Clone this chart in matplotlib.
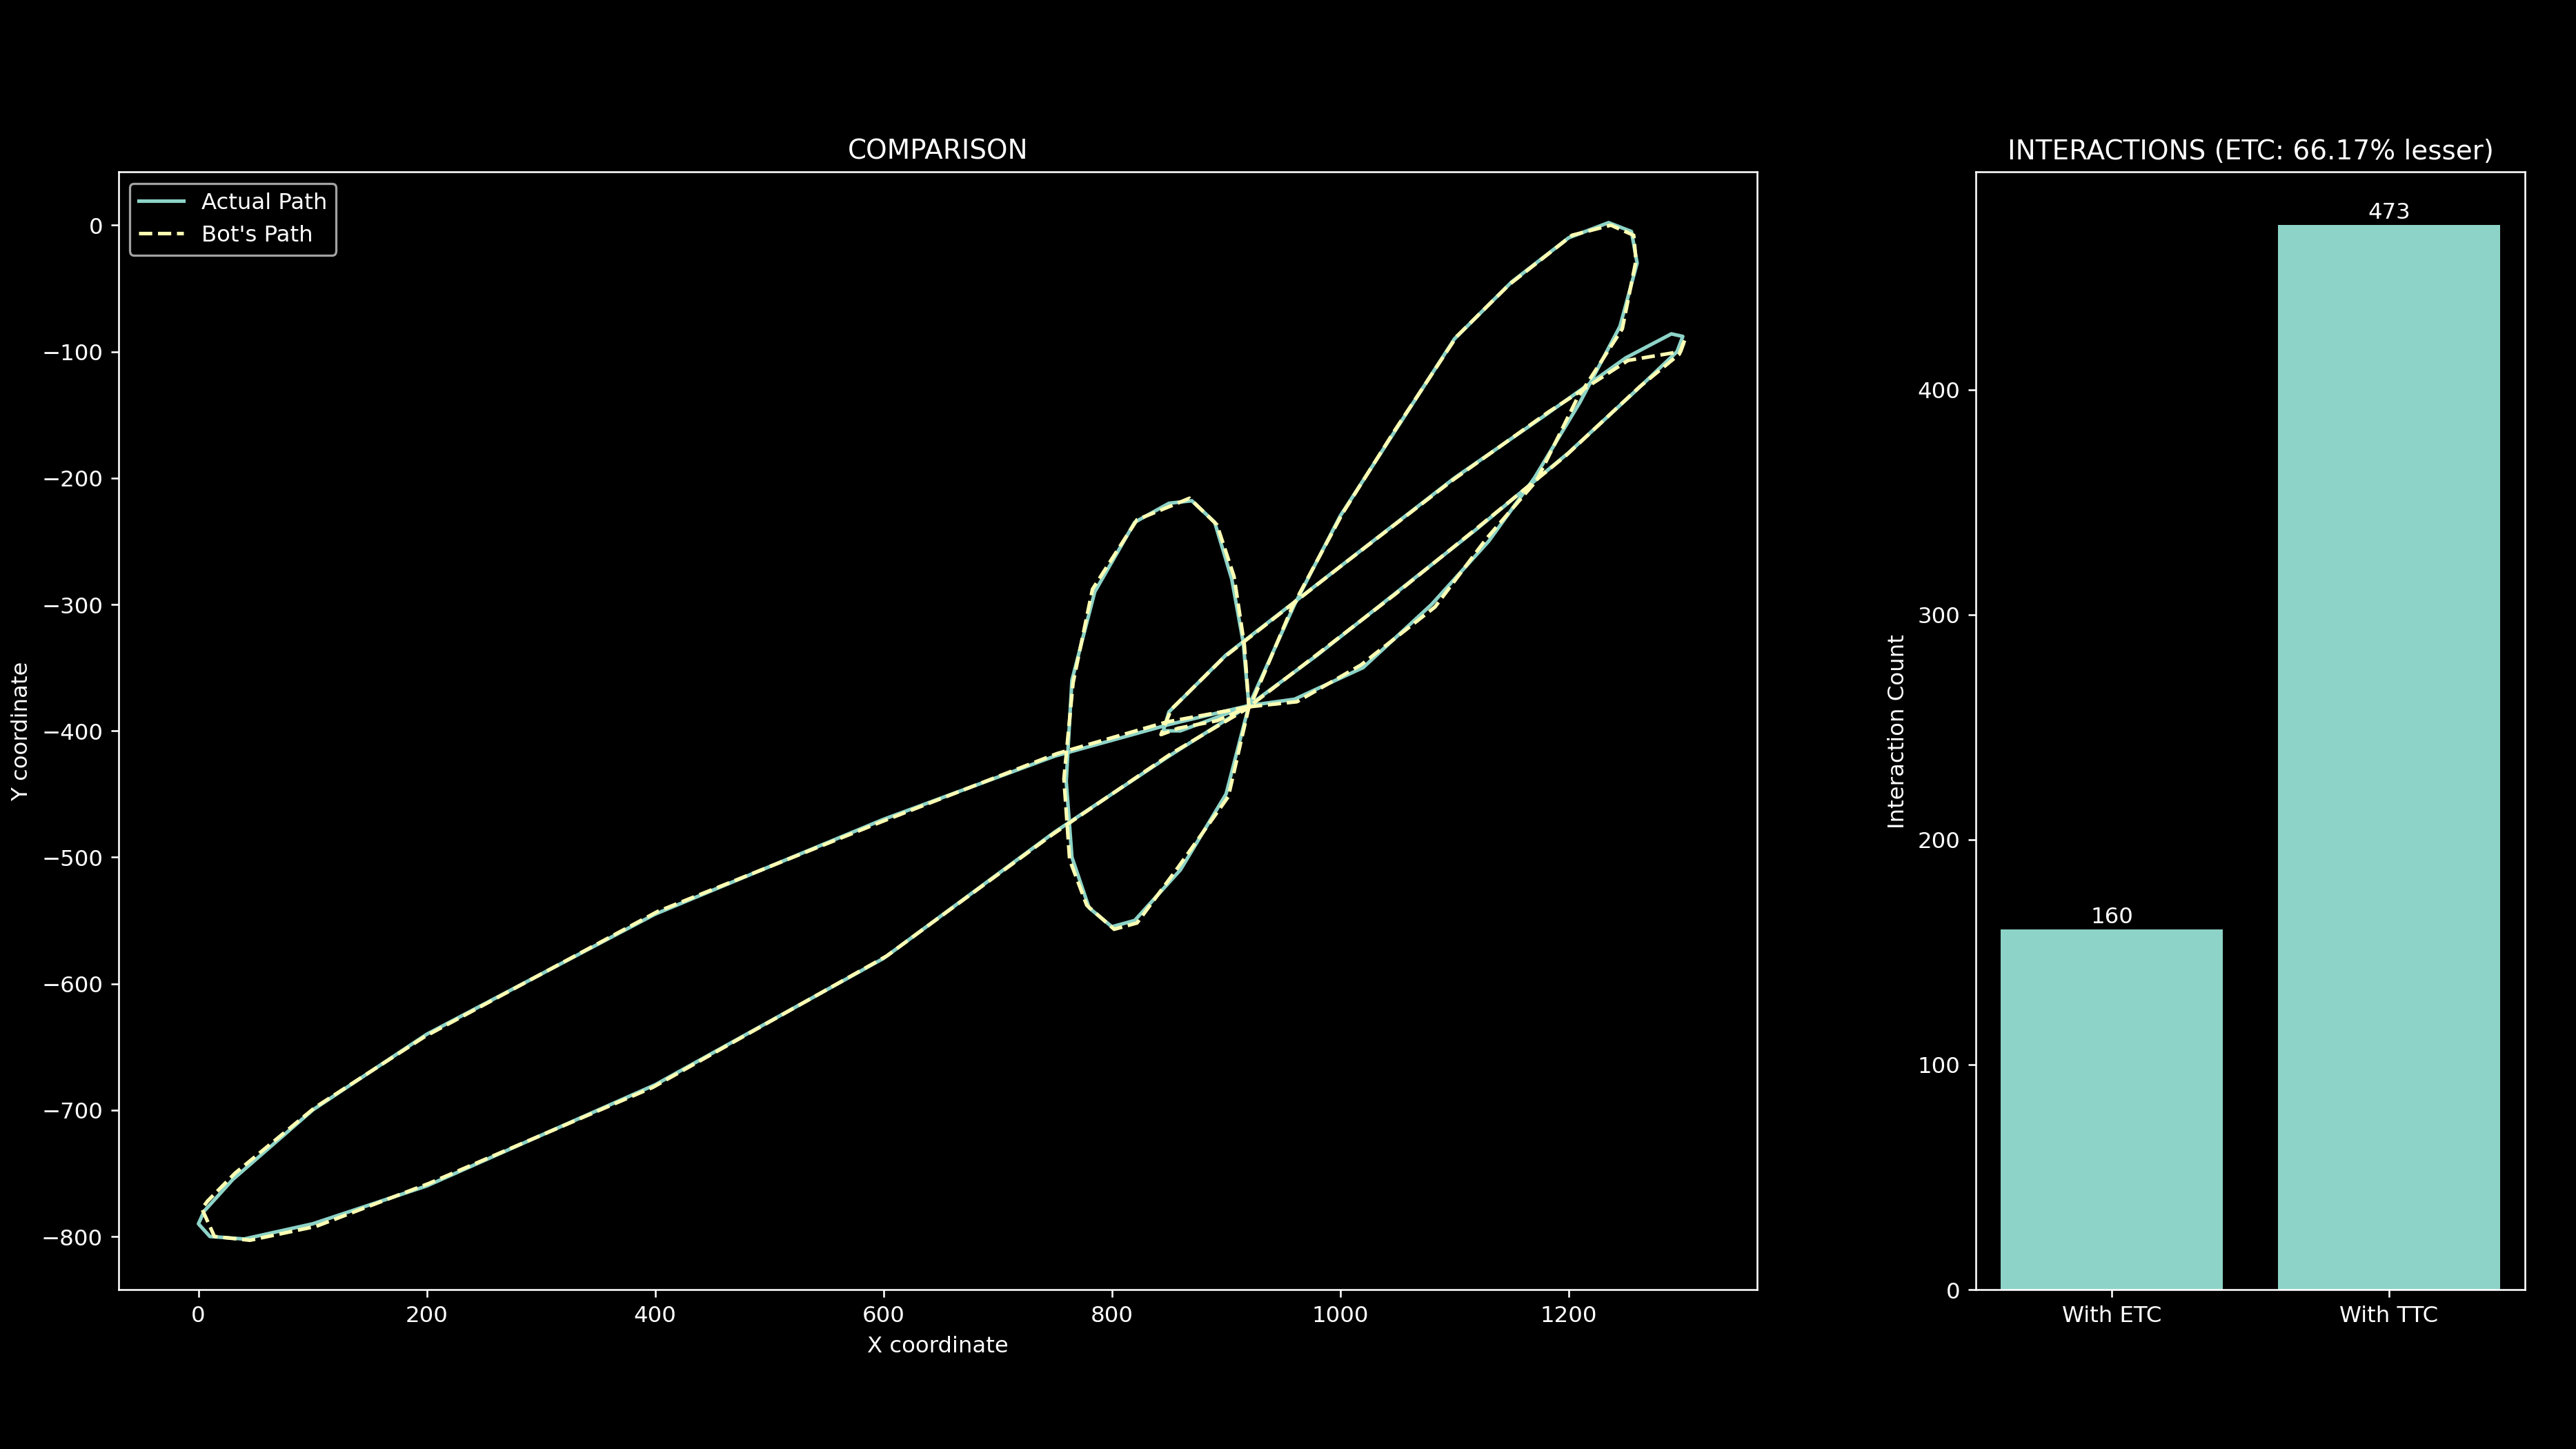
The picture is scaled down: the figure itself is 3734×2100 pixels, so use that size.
import matplotlib
matplotlib.use('Agg')
import matplotlib.pyplot as plt

plt.style.use('dark_background')

# path (center crossing near 920,-380)
actual_x = [920, 850, 750, 600, 400, 200, 100, 30, 5, 0, 10, 40, 100, 200, 400, 600, 750, 850, 920,
            960, 1000, 1050, 1100, 1150, 1200, 1235, 1255, 1260, 1245, 1210, 1170, 1130, 1080, 1020, 960, 920,
            980, 1050, 1120, 1200, 1260, 1295, 1300, 1290, 1250, 1180, 1100, 1000, 900, 850, 845, 860, 890, 920,
            900, 860, 820, 800, 780, 765, 760, 765, 785, 820, 850, 870, 890, 905, 915, 920]
actual_y = [-380, -395, -420, -470, -545, -640, -700, -755, -780, -790, -800, -802, -790, -760, -680, -580, -480, -420, -380,
            -300, -230, -160, -90, -45, -10, 2, -5, -30, -80, -140, -200, -250, -300, -350, -375, -380,
            -340, -290, -240, -180, -130, -100, -88, -86, -105, -150, -200, -270, -340, -385, -400, -400, -390, -380,
            -450, -510, -550, -555, -540, -500, -440, -360, -290, -235, -220, -218, -235, -280, -330, -380]

bot_x = [920, 848, 752, 598, 402, 198, 102, 32, 8, 3, 14, 45, 103, 202, 398, 603, 748, 852, 921,
         958, 1002, 1048, 1102, 1148, 1203, 1237, 1257, 1259, 1247, 1207, 1172, 1128, 1083, 1018, 962, 920,
         982, 1048, 1122, 1198, 1262, 1297, 1302, 1298, 1252, 1182, 1098, 1003, 898, 852, 843, 858, 892, 920,
         902, 858, 822, 802, 778, 763, 758, 766, 783, 822, 852, 868, 892, 907, 916, 920]
bot_y = [-381, -393, -418, -472, -543, -642, -698, -750, -772, -778, -800, -803, -792, -758, -682, -578, -482, -418, -381,
         -302, -228, -162, -88, -47, -8, 0, -8, -28, -82, -138, -202, -248, -302, -348, -377, -381,
         -338, -292, -238, -182, -128, -102, -90, -100, -107, -148, -202, -268, -342, -383, -403, -398, -392, -381,
         -452, -508, -552, -557, -538, -502, -438, -362, -288, -233, -222, -216, -237, -278, -332, -381]

bar_labels = ['With ETC', 'With TTC']
bar_values = [160, 473]

fig = plt.figure(figsize=(16, 9), dpi=233.4)
ax = fig.add_axes([0.046, 0.110, 0.636, 0.771])
ax2 = fig.add_axes([0.767, 0.110, 0.213, 0.771])

ax.plot(actual_x, actual_y, color='#8dd3c7', lw=1.6, label='Actual Path')
ax.plot(bot_x, bot_y, color='#feffb3', lw=1.6, ls='--', label="Bot's Path")
ax.set_xlim(-70, 1365)
ax.set_ylim(-842, 42)
ax.set_title('COMPARISON')
ax.set_xlabel('X coordinate')
ax.set_ylabel('Y coordinate')
ax.legend(loc='upper left')

bars = ax2.bar(bar_labels, bar_values, color='#8dd3c7')
ax2.bar_label(bars, padding=1)
ax2.set_ylim(0, 473 * 1.05)
ax2.set_ylabel('Interaction Count')
ax2.set_title('INTERACTIONS (ETC: 66.17% lesser)')

fig.savefig('out.png', dpi=233.4)
